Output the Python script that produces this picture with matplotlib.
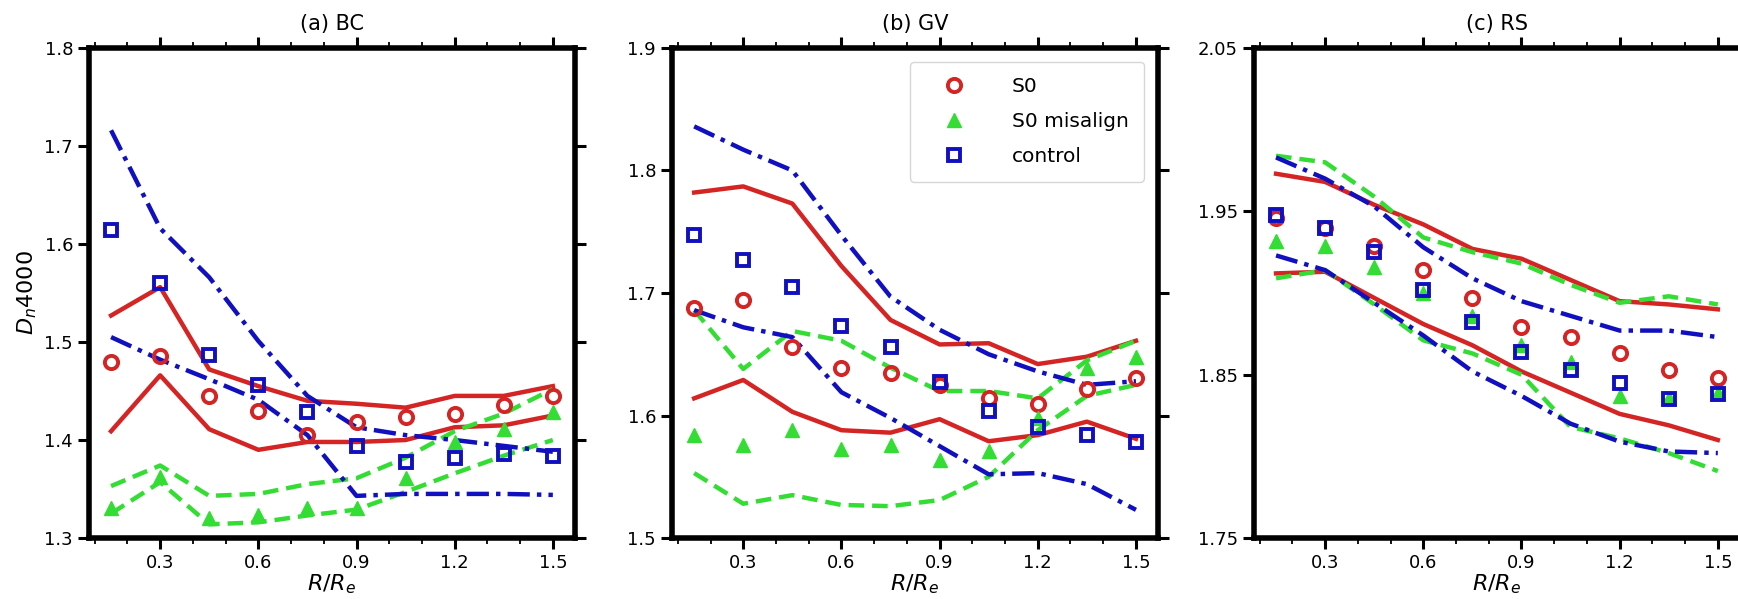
import numpy as np
import matplotlib
matplotlib.use("Agg")
import matplotlib.pyplot as plt
from matplotlib.ticker import MultipleLocator

# radial bins
r = [0.15, 0.30, 0.45, 0.60, 0.75, 0.90, 1.05, 1.20, 1.35, 1.50]

panels = ["(a) BC", "(b) GV", "(c) RS"]
ylims = [(1.3, 1.8), (1.5, 1.9), (1.75, 2.05)]
yticks = [[1.3, 1.4, 1.5, 1.6, 1.7, 1.8],
          [1.5, 1.6, 1.7, 1.8, 1.9],
          [1.75, 1.85, 1.95, 2.05]]

# (a) BC
bc_s0 = [1.480, 1.486, 1.445, 1.430, 1.405, 1.418, 1.423, 1.427, 1.436, 1.445]
bc_s0_hi = [1.527, 1.556, 1.472, 1.455, 1.440, 1.437, 1.433, 1.445, 1.445, 1.455]
bc_s0_lo = [1.409, 1.466, 1.411, 1.390, 1.398, 1.398, 1.400, 1.413, 1.415, 1.425]
bc_mis = [1.331, 1.362, 1.320, 1.323, 1.331, 1.331, 1.361, 1.398, 1.411, 1.429]
bc_mis_hi = [1.353, 1.374, 1.343, 1.345, 1.355, 1.361, 1.382, 1.409, 1.427, 1.452]
bc_mis_lo = [1.325, 1.357, 1.314, 1.316, 1.323, 1.329, 1.347, 1.366, 1.384, 1.400]
bc_ctl = [1.614, 1.560, 1.487, 1.456, 1.429, 1.394, 1.378, 1.382, 1.386, 1.384]
bc_ctl_hi = [1.716, 1.616, 1.566, 1.501, 1.445, 1.413, 1.405, 1.400, 1.394, 1.388]
bc_ctl_lo = [1.505, 1.482, 1.462, 1.441, 1.405, 1.343, 1.345, 1.345, 1.345, 1.344]

# (b) GV
gv_s0 = [1.688, 1.694, 1.656, 1.639, 1.635, 1.625, 1.614, 1.609, 1.622, 1.631]
gv_s0_hi = [1.782, 1.787, 1.773, 1.722, 1.678, 1.658, 1.659, 1.642, 1.648, 1.661]
gv_s0_lo = [1.614, 1.629, 1.603, 1.588, 1.586, 1.597, 1.579, 1.584, 1.595, 1.581]
gv_mis = [1.584, 1.576, 1.588, 1.573, 1.576, 1.564, 1.571, 1.598, 1.639, 1.648]
gv_mis_hi = [1.686, 1.638, 1.669, 1.661, 1.639, 1.620, 1.620, 1.614, 1.645, 1.661]
gv_mis_lo = [1.553, 1.528, 1.535, 1.527, 1.526, 1.531, 1.550, 1.588, 1.616, 1.625]
gv_ctl = [1.747, 1.727, 1.705, 1.673, 1.656, 1.627, 1.604, 1.591, 1.584, 1.578]
gv_ctl_hi = [1.836, 1.817, 1.800, 1.747, 1.697, 1.670, 1.650, 1.636, 1.625, 1.628]
gv_ctl_lo = [1.686, 1.672, 1.664, 1.619, 1.598, 1.575, 1.552, 1.553, 1.544, 1.523]

# (c) RS
rs_s0 = [1.946, 1.940, 1.929, 1.914, 1.897, 1.879, 1.873, 1.863, 1.853, 1.848]
rs_s0_hi = [1.973, 1.968, 1.954, 1.942, 1.927, 1.921, 1.908, 1.895, 1.893, 1.890]
rs_s0_lo = [1.912, 1.913, 1.897, 1.881, 1.868, 1.852, 1.839, 1.826, 1.819, 1.810]
rs_mis = [1.932, 1.929, 1.916, 1.900, 1.886, 1.868, 1.858, 1.837, 1.836, 1.839]
rs_mis_hi = [1.984, 1.980, 1.959, 1.934, 1.925, 1.918, 1.905, 1.894, 1.898, 1.893]
rs_mis_lo = [1.909, 1.914, 1.893, 1.871, 1.863, 1.850, 1.818, 1.811, 1.802, 1.791]
rs_ctl = [1.948, 1.940, 1.925, 1.902, 1.882, 1.864, 1.853, 1.845, 1.835, 1.838]
rs_ctl_hi = [1.983, 1.970, 1.953, 1.928, 1.909, 1.895, 1.886, 1.877, 1.877, 1.873]
rs_ctl_lo = [1.923, 1.914, 1.894, 1.874, 1.852, 1.837, 1.820, 1.809, 1.803, 1.802]

data = [
    (bc_s0, bc_s0_hi, bc_s0_lo, bc_mis, bc_mis_hi, bc_mis_lo, bc_ctl, bc_ctl_hi, bc_ctl_lo),
    (gv_s0, gv_s0_hi, gv_s0_lo, gv_mis, gv_mis_hi, gv_mis_lo, gv_ctl, gv_ctl_hi, gv_ctl_lo),
    (rs_s0, rs_s0_hi, rs_s0_lo, rs_mis, rs_mis_hi, rs_mis_lo, rs_ctl, rs_ctl_hi, rs_ctl_lo),
]

RED = "#d42424"
GREEN = "#33dd33"
BLUE = "#1010c0"

fig = plt.figure(figsize=(17.38, 5.99), dpi=100)
lefts = [0.0512, 0.3867, 0.7215]
bottom, width, height = 0.1018, 0.2796, 0.8181

for i, (left, d) in enumerate(zip(lefts, data)):
    ax = fig.add_axes([left, bottom, width, height])
    s0, s0_hi, s0_lo, mis, mis_hi, mis_lo, ctl, ctl_hi, ctl_lo = d

    # envelopes
    for y in (s0_hi, s0_lo):
        ax.plot(r, y, color=RED, ls="-", lw=3.2, zorder=2)
    for y in (mis_hi, mis_lo):
        ax.plot(r, y, color=GREEN, ls=(0, (3.5, 1.8)), lw=3.2, zorder=2)
    for y in (ctl_hi, ctl_lo):
        ax.plot(r, y, color=BLUE, ls=(0, (5, 1.6, 1, 1.6)), lw=3.2, zorder=2)

    # medians
    ax.plot(r, s0, ls="none", marker="o", ms=9.5, mfc="none", mec=RED, mew=2.8,
            label="S0", zorder=3)
    ax.plot(r, mis, ls="none", marker="^", ms=10, color=GREEN, label="S0 misalign", zorder=3)
    ax.plot(r, ctl, ls="none", marker="s", ms=9, mfc="none", mec=BLUE, mew=2.8,
            label="control", zorder=3)

    ax.set_ylim(*ylims[i])
    ax.set_yticks(yticks[i])
    ax.xaxis.set_major_locator(MultipleLocator(0.3))
    ax.xaxis.set_minor_locator(MultipleLocator(0.1))
    ax.set_xlim(0.0825, 1.5675)
    ax.tick_params(which="both", direction="out", top=True, right=True, labelsize=13)
    ax.tick_params(which="major", length=8, width=2.2)
    ax.tick_params(which="minor", length=4, width=1.3)
    ax.tick_params(axis="y", which="minor", left=False, right=False)
    for sp in ax.spines.values():
        sp.set_linewidth(4)

    ax.set_title(panels[i], fontsize=15, pad=13)
    ax.set_xlabel("$R/R_e$", fontsize=16, labelpad=0)
    if i == 0:
        ax.set_ylabel("$D_n4000$", fontsize=16)
    if i == 1:
        ax.legend(loc="upper right", fontsize=14.5, borderpad=0.75, labelspacing=0.8,
                  handlelength=2.8, handletextpad=1.5, borderaxespad=0.7, framealpha=0.8)

fig.savefig("out.png", dpi=100)
